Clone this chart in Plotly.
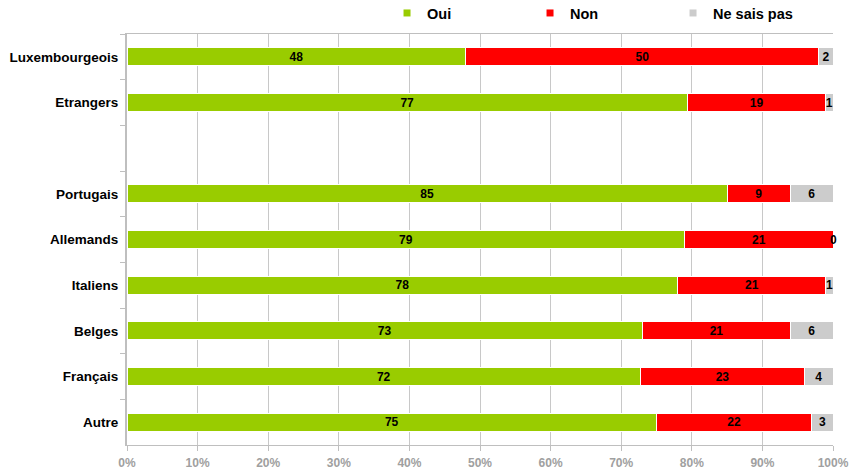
import plotly.graph_objects as go

# Survey answers per group (raw percentages as reported)
categories = ["Luxembourgeois", "Etrangers", " ", "Portugais", "Allemands",
              "Italiens", "Belges", "Français", "Autre"]
oui = [48, 77, None, 85, 79, 78, 73, 72, 75]
non = [50, 19, None, 9, 21, 21, 21, 23, 22]
nsp = [2, 1, None, 6, 0, 1, 6, 4, 3]

series = [
    ("Oui", oui, "#99CC00"),
    ("Non", non, "#FF0000"),
    ("Ne sais pas", nsp, "#CCCCCC"),
]

x_ticks = [0, 10, 20, 30, 40, 50, 60, 70, 80, 90, 100]

FONT = "Liberation Sans, Arial, sans-serif"

fig = go.Figure()
for name, vals, color in series:
    fig.add_trace(go.Bar(
        y=categories,
        x=vals,
        name=name,
        orientation="h",
        marker=dict(color=color, line=dict(color="white", width=1)),
        text=[("" if v is None else str(v)) for v in vals],
        textposition="inside",
        insidetextanchor="middle",
        textangle=0,
        textfont=dict(family=FONT, size=12, color="black", weight="bold"),
        showlegend=False,
        hoverinfo="skip",
    ))
    # compact square legend entry
    fig.add_trace(go.Scatter(
        x=[None], y=[None], mode="markers", name=name,
        marker=dict(symbol="square", size=7, color=color),
        hoverinfo="skip",
    ))

# Labels for zero-width segments, placed at their cumulative position
for i, cat in enumerate(categories):
    row = [s[1][i] for s in series]
    if any(v is None for v in row):
        continue
    total = sum(row)
    cum = 0.0
    for v in row:
        share = v / total * 100
        if v == 0:
            fig.add_annotation(
                x=cum + share / 2, y=cat, text=str(v), showarrow=False,
                xanchor="center", yanchor="middle",
                font=dict(family=FONT, size=12, color="black", weight="bold"),
            )
        cum += share

fig.update_layout(
    barmode="stack",
    barnorm="percent",
    bargap=0.61,
    width=854, height=473,
    margin=dict(l=127, r=21, t=34, b=28, autoexpand=False),
    paper_bgcolor="white",
    plot_bgcolor="white",
    uniformtext=dict(minsize=12, mode="show"),
    legend=dict(
        orientation="h",
        traceorder="normal",
        x=0.3683, xanchor="left",
        y=1.051, yanchor="middle",
        entrywidth=98, entrywidthmode="pixels",
        font=dict(family=FONT, size=14.5, color="black", weight="bold"),
        bgcolor="rgba(0,0,0,0)",
    ),
    xaxis=dict(
        range=[0, 100],
        tickvals=x_ticks,
        ticktext=[f"{t}%" for t in x_ticks],
        showgrid=True, gridcolor="#C8C8C8", gridwidth=1,
        showline=True, linecolor="#BFBFBF", linewidth=1, mirror=True,
        ticks="outside", ticklen=5, tickcolor="#BFBFBF",
        tickfont=dict(family=FONT, size=12, color="#A0A0A0", weight="bold"),
        ticklabelstandoff=2,
        zeroline=False,
        automargin=False,
        fixedrange=True,
    ),
    yaxis=dict(
        categoryorder="array",
        categoryarray=categories,
        autorange="reversed",
        showgrid=False,
        showline=True, linecolor="#BFBFBF", linewidth=2,
        ticks="outside", ticklen=5, tickcolor="#BFBFBF",
        tickson="boundaries",
        tickfont=dict(family=FONT, size=13.5, color="black", weight="bold"),
        ticklabelstandoff=4,
        automargin=False,
        fixedrange=True,
    ),
)

fig.write_html("out.html")
